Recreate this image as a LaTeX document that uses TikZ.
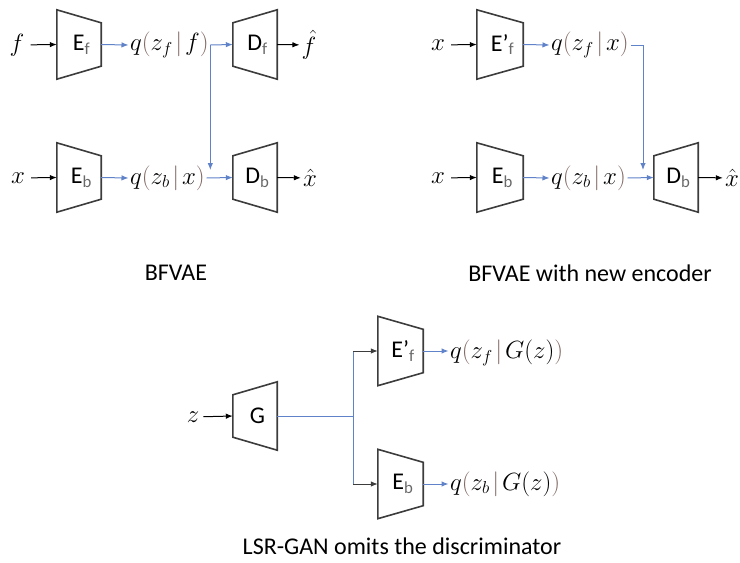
\documentclass[tikz,border=0pt]{standalone}
\usepackage{fontspec}
\setmainfont{Carlito}
\usetikzlibrary{arrows.meta}
\definecolor{linkblue}{RGB}{95,130,200}
\definecolor{parcol}{RGB}{130,105,100}
\definecolor{boxgray}{RGB}{60,60,60}
\definecolor{subgray}{RGB}{105,105,105}
% coloured delimiters for the posterior labels
\newcommand\qop{\mathopen{\textcolor{parcol}{(}}}
\newcommand\qcl{\mathclose{\textcolor{parcol}{)}}}
\newcommand\qmid{\mkern2mu\mathord{\textcolor{parcol}{|}}\mkern2mu}
\newcommand\sub[1]{{\color{subgray}\textsubscript{#1}}}
% encoder: tall input side, short output side
\newcommand\encoder[1]{\draw[trapline] (#1.north west) -- ([yshift=-13pt]#1.north east)
  -- ([yshift=13pt]#1.south east) -- (#1.south west) -- cycle;}
% decoder / generator: short input side, tall output side
\newcommand\decoder[1]{\draw[trapline] ([yshift=-13pt]#1.north west) -- (#1.north east)
  -- (#1.south east) -- ([yshift=13pt]#1.south west) -- cycle;}
\begin{document}
\begin{tikzpicture}[x=1pt,y=-1pt,
  box/.style={minimum width=44pt,minimum height=69pt,inner sep=0pt,
    font=\fontsize{24}{28}\selectfont,execute at begin node=\hspace*{5pt}},
  lbl/.style={inner sep=1.5pt,font=\fontsize{25}{30}\selectfont},
  inlbl/.style={lbl,inner xsep=6pt},
  outlbl/.style={lbl,inner xsep=2pt},
  captxt/.style={inner sep=0pt,font=\fontsize{24}{28}\selectfont},
  blk/.style={draw=black,line width=1pt,-{Latex[length=7pt,width=5.5pt]}},
  blu/.style={draw=linkblue,line width=1pt,-{Latex[length=7pt,width=5.5pt]}},
  bluline/.style={draw=linkblue,line width=1pt},
  trapline/.style={draw=boxgray,line width=1.6pt,line join=miter}
]
\useasboundingbox (0,0) rectangle (740,563);

% ---------------- BFVAE ----------------
\node[inlbl] (fin) at (17,45) {$f$};
\node[box] (ef) at (79,44.5) {E\sub{f}};
\node[lbl,anchor=west] (qf) at (128.5,45) {$q\qop z_f\qmid f\qcl$};
\node[box] (df) at (255,44.5) {D\sub{f}};
\node[outlbl] (fhat) at (309,45) {$\hat f$};

\node[inlbl] (xin) at (18,178) {$x$};
\node[box] (eb) at (79,177.5) {E\sub{b}};
\node[lbl,anchor=west] (qb) at (128.5,178) {$q\qop z_b\qmid x\qcl$};
\node[box] (db) at (255,177.5) {D\sub{b}};
\node[outlbl] (xhat) at (310,178) {$\hat x$};

\encoder{ef} \decoder{df} \encoder{eb} \decoder{db}
\draw[blk] (fin) -- (ef.west);
\draw[blu] (ef.east) -- (qf.west);
\draw[blu] (qf.east) -- (df.west);
\draw[blk] (df.east) -- (fhat);
\draw[blk] (xin) -- (eb.west);
\draw[blu] (eb.east) -- (qb.west);
\draw[blu] (qb.east) -- (db.west);
\draw[blk] (db.east) -- (xhat);
\draw[blu] (qf.east) -- (qf.east |- 0,170);

\node[captxt] (capA) at (176,273) {BFVAE};

% ---------------- BFVAE with new encoder ----------------
\node[inlbl] (xin2) at (438,45) {$x$};
\node[box,minimum width=46pt] (efn) at (500,44.5) {E’\sub{f}};
\node[lbl,anchor=west] (qfx) at (549.5,45) {$q\qop z_f\qmid x\qcl$};

\node[inlbl] (xin3) at (438,178) {$x$};
\node[box,minimum width=46pt] (ebn) at (500,177.5) {E\sub{b}};
\node[lbl,anchor=west] (qbx) at (549.5,178) {$q\qop z_b\qmid x\qcl$};
\node[box] (dbn) at (676,177.5) {D\sub{b}};
\node[outlbl] (xhat2) at (732,178) {$\hat x$};
\coordinate (dropR) at (643,170);

\encoder{efn} \encoder{ebn} \decoder{dbn}
\draw[blk] (xin2) -- (efn.west);
\draw[blu] (efn.east) -- (qfx.west);
\draw[blu] (qfx.east) -| (dropR);
\draw[blk] (xin3) -- (ebn.west);
\draw[blu] (ebn.east) -- (qbx.west);
\draw[blu] (qbx.east) -- (dbn.west);
\draw[blk] (dbn.east) -- (xhat2);

\node[captxt] (capB) at (590,273) {BFVAE with new encoder};

% ---------------- LSR-GAN ----------------
\node[inlbl,inner xsep=4pt] (zin) at (193,417) {$z$};
\node[box,minimum height=68pt] (gen) at (255,416) {G};
\coordinate (split) at (353,416);
\node[box,minimum width=45pt] (efg) at (400.5,351) {E’\sub{f}};
\node[box,minimum width=45pt] (ebg) at (400.5,484) {E\sub{b}};
\node[lbl,anchor=west] (qgf) at (448.5,353) {$q\qop z_f\qmid G(z)\qcl$};
\node[lbl,anchor=west] (qgb) at (448.5,484) {$q\qop z_b\qmid G(z)\qcl$};

\decoder{gen} \encoder{efg} \encoder{ebg}
\draw[blk] (zin) -- (gen.west);
\draw[bluline] (gen.east) -- (split);
\draw[bluline] (split |- efg) -- (split |- ebg);
\draw[blk,draw=boxgray] (split |- efg) -- (efg.west);
\draw[blk,draw=boxgray] (split |- ebg) -- (ebg.west);
\draw[blu] (efg.east) -- (qgf.west |- efg);
\draw[blu] (ebg.east) -- (qgb.west);

\node[captxt] (capC) at (402,546) {LSR-GAN omits the discriminator};
\end{tikzpicture}
\end{document}
